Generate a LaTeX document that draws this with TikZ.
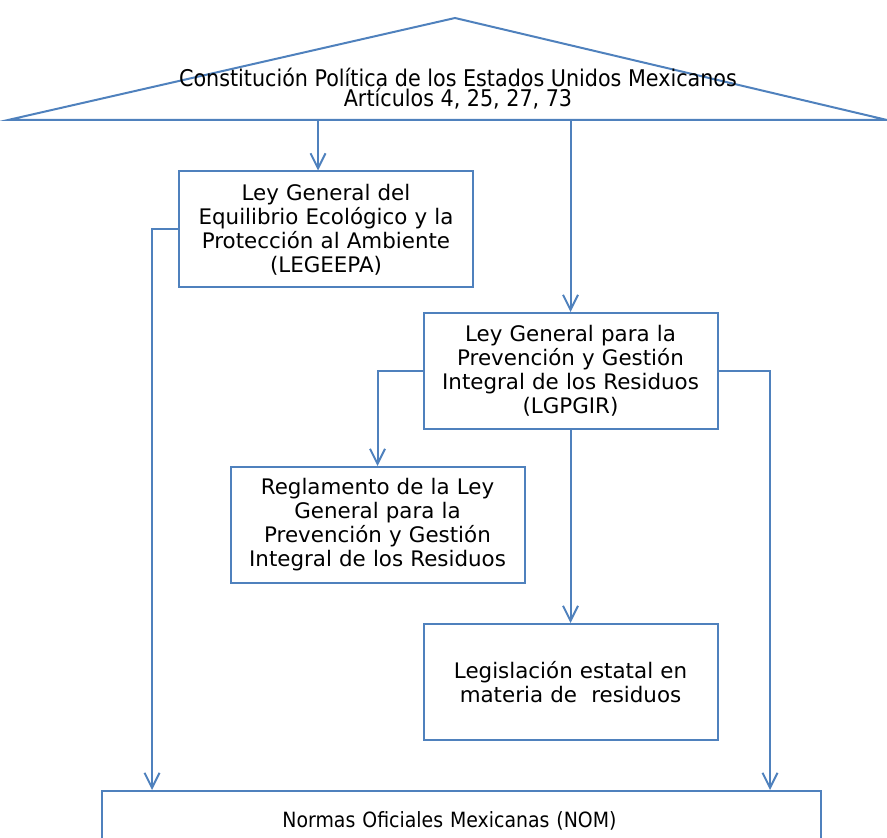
\documentclass[tikz,border=0pt]{standalone}
\usepackage{fontspec}
\setmainfont{DejaVu Sans}
\newfontfamily\estrecha{DejaVu Sans Condensed}
\usetikzlibrary{arrows.meta,positioning}
\definecolor{azul}{HTML}{4F81BD}
\newcommand\apretado{\lineskiplimit=-100pt\relax}

\begin{document}
\begin{tikzpicture}[
x=0.5pt, y=-0.5pt,
ley/.style={
rectangle,
draw=azul,
line width=1pt,
text width=145pt,
align=center,
minimum width=147pt,
minimum height=58pt,
inner sep=0pt,
font=\fontsize{10.7}{12}\selectfont
},
flecha/.style={
-{Straight Barb[length=7.5pt,width=7.5pt]},
draw=azul,
line width=1pt
},
linea/.style={
draw=azul,
line width=1pt
}
]
\useasboundingbox (0,0) rectangle (887,838);

% Constitucion
\coordinate (cima) at (455,18);
\coordinate (base-izq) at (8,120);
\coordinate (base-der) at (887,120);
\draw[linea] (base-izq) -- (cima) -- (base-der) -- cycle;
\node[align=center, font=\estrecha\fontsize{11.5}{10}\selectfont\apretado] (constitucion) at (458,89)
{Constitución Política de los Estados Unidos Mexicanos\\Artículos 4, 25, 27, 73};

% Leyes
\node[ley] (legeepa) at (326,229.5) {Ley General del\\Equilibrio Ecológico y la\\Protección al Ambiente\\(LEGEEPA)};
\node[ley] (lgpgir) at (570.5,371) {Ley General para la\\Prevención y Gestión\\Integral de los Residuos\\(LGPGIR)};
\node[ley] (reglamento) at (377.5,525) {Reglamento de la Ley\\General para la\\Prevención y Gestión\\Integral de los Residuos};
\node[ley] (legislacion) at (570.5,682) {Legislación estatal en\\materia de\ \ residuos};
\node[ley, minimum width=359.5pt, minimum height=0pt, text width=355pt, text height=6pt, text depth=2pt,
inner ysep=12pt, anchor=north, font=\estrecha\fontsize{10.5}{12}\selectfont] (nom) at (461.5,790)
{\hspace*{-12pt}Normas Oficiales Mexicanas (NOM)};

% Conexiones
\coordinate (salida-legeepa) at (318,120);
\draw[flecha] (salida-legeepa) -- (salida-legeepa |- legeepa.north);
\draw[flecha] (lgpgir.north |- base-izq) -- (lgpgir.north);
\draw[flecha] (lgpgir.west) -| (reglamento.north);
\draw[flecha] (lgpgir.south) -- (legislacion.north);
\coordinate (bajada-izq) at (152,231);
\draw[flecha] (legeepa.west) -| (bajada-izq |- nom.north);
\coordinate (bajada-der) at (770,372);
\draw[flecha] (lgpgir.east) -| (bajada-der |- nom.north);
\end{tikzpicture}
\end{document}
